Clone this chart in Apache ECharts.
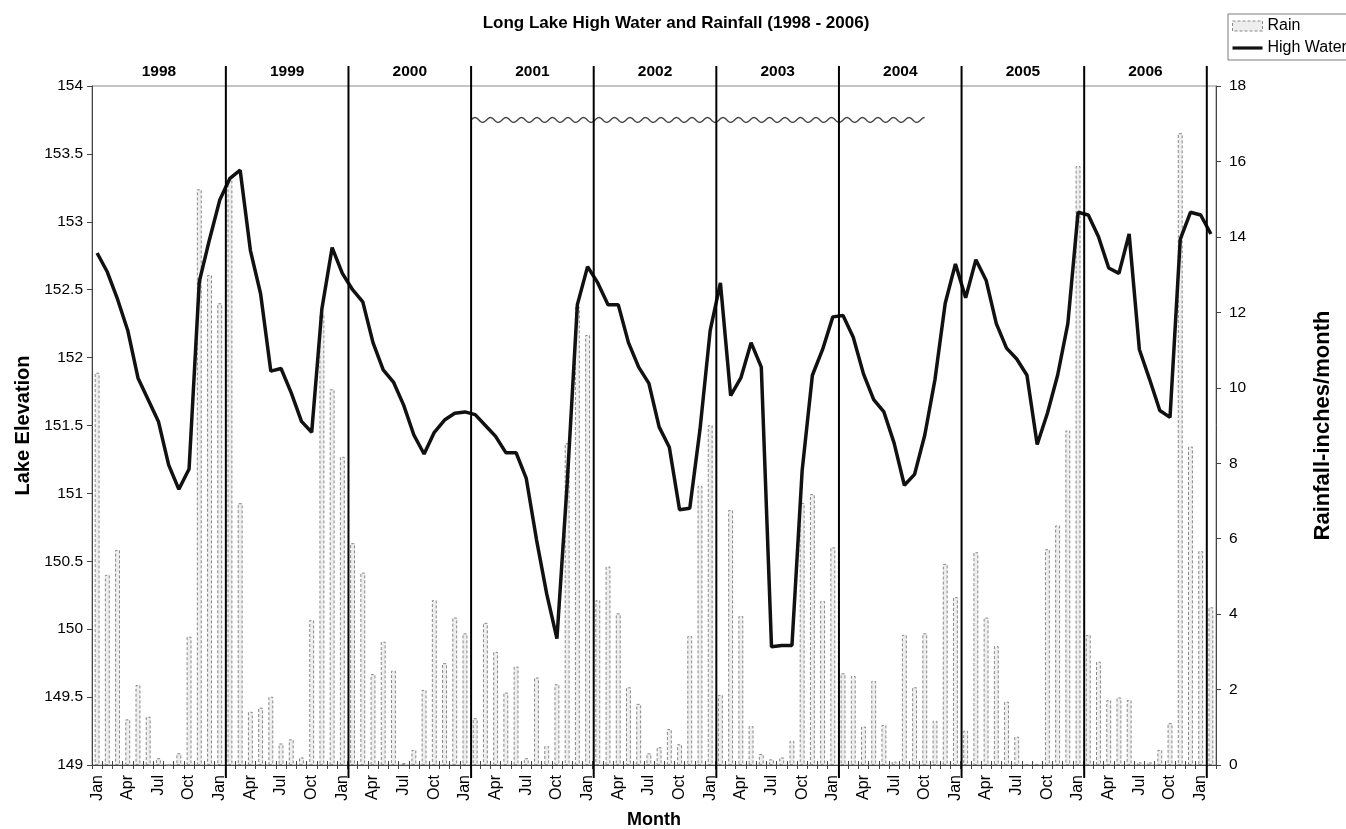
<!DOCTYPE html>
<html>
<head>
<meta charset="utf-8">
<script src="https://cdn.jsdelivr.net/npm/echarts@6/dist/echarts.min.js"></script>
<style>
html,body{margin:0;padding:0;background:#fff;}
#chart{width:1346px;height:829px;}
</style>
</head>
<body>
<div id="chart"></div>
<script>
// ---- data ----
const monthNames = ['Jan','Feb','Mar','Apr','May','Jun','Jul','Aug','Sep','Oct','Nov','Dec'];
const startYear = 1998;
const monthCount = 110; // Jan 1998 .. Feb 2007
const yearLabels = ['1998','1999','2000','2001','2002','2003','2004','2005','2006'];
const leftTicks = {min: 149, max: 154, interval: 0.5};
const rightTicks = {min: 0, max: 18, interval: 2};

// Lake elevation (high water), monthly
const highWater = [
  152.77,152.63,152.43,152.20,151.85,151.69,151.53,151.21,151.03,151.18,152.56,152.87,
  153.16,153.32,153.38,152.79,152.47,151.90,151.92,151.74,151.53,151.45,152.36,152.81,
  152.62,152.50,152.41,152.11,151.91,151.82,151.65,151.43,151.29,151.45,151.54,151.59,
  151.60,151.58,151.50,151.42,151.30,151.30,151.11,150.66,150.26,149.93,151.07,152.39,
  152.67,152.55,152.39,152.39,152.11,151.93,151.81,151.49,151.34,150.88,150.89,151.47,
  152.20,152.55,151.72,151.85,152.11,151.93,149.87,149.88,149.88,151.17,151.87,152.06,
  152.30,152.31,152.15,151.88,151.69,151.60,151.37,151.06,151.14,151.43,151.84,152.40,
  152.69,152.44,152.72,152.57,152.25,152.07,151.99,151.87,151.36,151.59,151.87,152.25,
  153.07,153.05,152.89,152.66,152.62,152.91,152.06,151.84,151.61,151.56,152.87,153.07,
  153.05,152.91
];

// Rainfall, inches per month
const rain = [
  10.40,5.04,5.70,1.21,2.12,1.28,0.18,0.00,0.31,3.40,15.26,12.99,
  12.24,15.50,6.94,1.41,1.52,1.81,0.57,0.68,0.20,3.84,11.97,9.96,
  8.17,5.88,5.10,2.41,3.27,2.50,0.05,0.40,1.99,4.37,2.70,3.91,
  3.49,1.24,3.77,3.00,1.92,2.61,0.18,2.32,0.50,2.14,8.53,12.15,
  11.40,4.37,5.26,4.02,2.06,1.62,0.31,0.47,0.95,0.55,3.42,7.40,
  9.01,1.86,6.76,3.95,1.03,0.29,0.15,0.20,0.64,6.95,7.18,4.35,
  5.77,2.43,2.36,1.02,2.23,1.06,0.09,3.45,2.06,3.49,1.17,5.33,
  4.45,0.91,5.64,3.91,3.15,1.68,0.75,0.02,0.03,5.72,6.35,8.87,
  15.88,3.45,2.74,1.72,1.79,1.72,0.07,0.07,0.40,1.11,16.75,8.44,
  5.67,4.18
];

// wavy annotation: from start of 2001 to Oct 2004 at this elevation
const waveStartCat = 'Jan 2001';
const waveEndCat = 'Oct 2004';
const waveLevel = 153.75;

// ---- build categories ----
const categories = [];
for (let i = 0; i < monthCount; i++) {
  categories.push(monthNames[i % 12] + ' ' + (startYear + Math.floor(i / 12)));
}

const FONT = '"Liberation Sans", Arial, sans-serif';
const rainStyle = {color: '#eeeeee', borderColor: '#888888', borderWidth: 1, borderType: [3, 2]};

const chart = echarts.init(document.getElementById('chart'));
const option = {
  backgroundColor: '#fff',
  animation: false,
  textStyle: {fontFamily: FONT, color: '#000'},
  title: {
    text: 'Long Lake High Water and Rainfall (1998 - 2006)',
    left: 671, textAlign: 'center', top: 10,
    textStyle: {fontFamily: FONT, fontSize: 17, fontWeight: 'bold', color: '#000'}
  },
  legend: {
    left: 1228, top: 14, orient: 'vertical',
    borderColor: '#7a7a7a', borderWidth: 1,
    padding: [4, 12, 4, 4], itemGap: 6, itemWidth: 30, itemHeight: 10,
    textStyle: {fontFamily: FONT, fontSize: 16, color: '#000'},
    data: [
      {name: 'Rain', icon: 'rect', itemStyle: rainStyle},
      {name: 'High Water', icon: 'path://M0,0M0,3.4H30V6.6H0ZM30,10', itemStyle: {color: '#111'}}
    ]
  },
  grid: {
    left: 92, right: 130, top: 86, bottom: 64,
    containLabel: false, outerBoundsMode: 'none',
    show: true, borderColor: '#8a8a8a', borderWidth: 1, backgroundColor: 'transparent'
  },
  xAxis: [{
    type: 'category', data: categories, boundaryGap: true,
    name: 'Month', nameLocation: 'middle', nameGap: 46,
    nameTextStyle: {fontFamily: FONT, fontSize: 18, fontWeight: 'bold', color: '#000'},
    axisLine: {lineStyle: {color: '#444', width: 1}},
    axisTick: {show: true, interval: 0, length: 4, lineStyle: {color: '#444'}},
    axisLabel: {
      interval: 2, rotate: 90, margin: 10, fontSize: 16, fontFamily: FONT, color: '#000',
      formatter: v => v.split(' ')[0]
    },
    splitLine: {show: false}
  }, {
    type: 'category', data: categories, boundaryGap: true, position: 'bottom',
    axisLine: {show: false},
    axisTick: {show: true, interval: 0, inside: true, length: 4, lineStyle: {color: '#444'}},
    axisLabel: {show: false}, splitLine: {show: false}
  }],
  yAxis: [{
    type: 'value', min: leftTicks.min, max: leftTicks.max, interval: leftTicks.interval,
    name: 'Lake Elevation', nameLocation: 'middle', nameGap: 58, nameRotate: 90,
    nameTextStyle: {fontFamily: FONT, fontSize: 20, fontWeight: 'bold', color: '#000'},
    axisLine: {show: true, lineStyle: {color: '#444'}},
    axisTick: {show: true, length: 5, lineStyle: {color: '#444'}},
    axisLabel: {fontSize: 15.5, fontFamily: FONT, color: '#000', margin: 9},
    splitLine: {show: false}
  }, {
    type: 'value', min: rightTicks.min, max: rightTicks.max, interval: rightTicks.interval,
    position: 'right',
    name: 'Rainfall-inches/month', nameLocation: 'middle', nameGap: 96, nameRotate: 90,
    nameTextStyle: {fontFamily: FONT, fontSize: 22, fontWeight: 'bold', color: '#000'},
    axisLine: {show: true, lineStyle: {color: '#444'}},
    axisTick: {show: true, length: 5, lineStyle: {color: '#444'}},
    axisLabel: {fontSize: 15.5, fontFamily: FONT, color: '#000', margin: 13},
    splitLine: {show: false}
  }],
  series: [{
    name: 'Rain', type: 'bar', xAxisIndex: 0, yAxisIndex: 1, data: rain,
    barWidth: '48%',
    itemStyle: rainStyle,
    z: 2
  }, {
    name: 'High Water', type: 'line', xAxisIndex: 0, yAxisIndex: 0, data: highWater,
    symbol: 'none', smooth: false,
    lineStyle: {color: '#111', width: 3.5},
    itemStyle: {color: '#111'},
    z: 5
  }]
};
chart.setOption(option);

function overlays() {
  const px = c => chart.convertToPixel({xAxisIndex: 0}, c);
  const band = px(categories[1]) - px(categories[0]);
  const gridLeft = px(categories[0]) - band / 2;
  const topY = chart.convertToPixel({yAxisIndex: 0}, leftTicks.max);
  const botY = chart.convertToPixel({yAxisIndex: 0}, leftTicks.min);
  const elements = [];
  const lineXs = [];
  for (let k = 1; k <= yearLabels.length; k++) {
    const cat = 'Jan ' + (startYear + k);
    lineXs.push(px(cat) + band * 0.6);
  }
  lineXs.forEach(x => {
    elements.push({
      type: 'line', z: 50,
      shape: {x1: x, y1: topY - 20, x2: x, y2: botY + 13},
      style: {stroke: '#000', lineWidth: 2}
    });
  });
  let prev = gridLeft;
  yearLabels.forEach((lab, k) => {
    const cx = (prev + lineXs[k]) / 2;
    prev = lineXs[k];
    elements.push({
      type: 'text', z: 50, x: cx, y: topY - 14,
      style: {text: lab, fontFamily: FONT, fontSize: 15.5, fontWeight: 'bold', fill: '#000',
              align: 'center', verticalAlign: 'middle'}
    });
  });
  // wavy annotation
  const wx0 = px(waveStartCat) + band * 0.6;
  const wx1 = px(waveEndCat);
  const wy = chart.convertToPixel({yAxisIndex: 0}, waveLevel);
  const pts = [];
  const period = 15.5, amp = 2.4;
  for (let x = wx0; x <= wx1; x += 0.5) {
    pts.push([x, wy - amp * Math.sin((x - wx0) / period * 2 * Math.PI)]);
  }
  elements.push({
    type: 'polyline', z: 40,
    shape: {points: pts},
    style: {stroke: '#444', lineWidth: 1.4, fill: null}
  });
  chart.setOption({graphic: {elements: elements}});
}
overlays();
</script>
</body>
</html>
